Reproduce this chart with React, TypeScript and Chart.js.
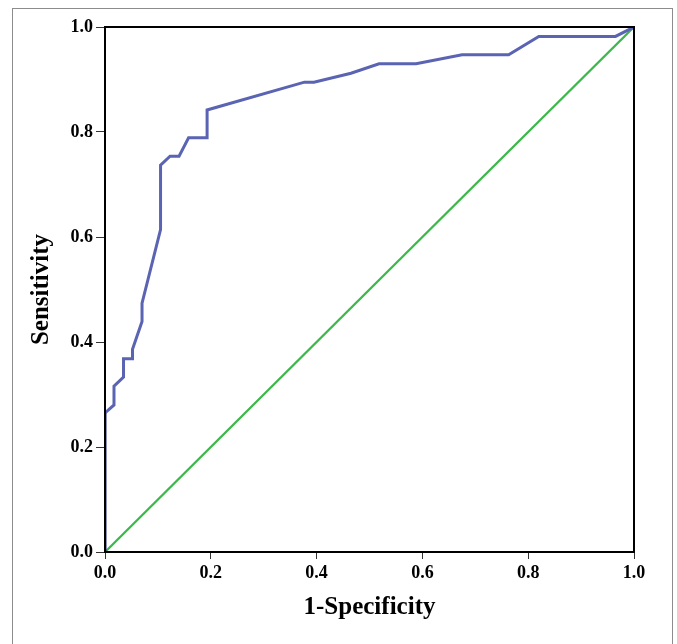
import React, { useEffect, useRef } from "react";
import { Chart, registerables } from "chart.js";

Chart.register(...registerables);

// ROC curve points (1-Specificity, Sensitivity)
const fpr = [0, 0, 0.017, 0.017, 0.035, 0.035, 0.052, 0.052, 0.07, 0.07, 0.105, 0.105, 0.123, 0.14, 0.158, 0.193, 0.193, 0.377, 0.395, 0.465, 0.518, 0.588, 0.675, 0.763, 0.82, 0.965, 1];
const tpr = [0, 0.265, 0.28, 0.316, 0.333, 0.368, 0.368, 0.386, 0.439, 0.474, 0.614, 0.737, 0.754, 0.754, 0.789, 0.789, 0.842, 0.895, 0.895, 0.912, 0.93, 0.93, 0.947, 0.947, 0.982, 0.982, 1];
const refX = [0, 1];
const refY = [0, 1];
const tickValues = [0, 0.2, 0.4, 0.6, 0.8, 1.0];
const xTitle = "1-Specificity";
const yTitle = "Sensitivity";

const W = 677;
const H = 644;

export default function App() {
  const ref = useRef<HTMLCanvasElement | null>(null);
  useEffect(() => {
    document.body.style.margin = "0";
    const canvas = ref.current;
    if (!canvas) return;
    const frame = {
      id: "frame",
      beforeDraw(chart: any) {
        const ctx = chart.ctx;
        ctx.save();
        ctx.fillStyle = "#ffffff";
        ctx.fillRect(0, 0, chart.width, chart.height);
        ctx.strokeStyle = "#8c8c8c";
        ctx.lineWidth = 1;
        ctx.strokeRect(12.5, 8.5, 660, 700);
        ctx.restore();
      },
      afterDraw(chart: any) {
        const a = chart.chartArea;
        const ctx = chart.ctx;
        ctx.save();
        ctx.strokeStyle = "#000000";
        ctx.lineWidth = 2;
        ctx.strokeRect(a.left, a.top, a.right - a.left, a.bottom - a.top);
        ctx.restore();
      },
    };
    const tickFont = { family: "'Liberation Serif', 'Times New Roman', serif", size: 18, weight: "bold" as const };
    const titleFont = { family: "'Liberation Serif', 'Times New Roman', serif", size: 25, weight: "bold" as const };
    const chart = new Chart(canvas, {
      type: "scatter",
      data: {
        datasets: [
          {
            label: "ROC",
            data: fpr.map((x, i) => ({ x, y: tpr[i] })),
            showLine: true,
            borderColor: "#5a64b2",
            borderWidth: 3,
            pointRadius: 0,
            tension: 0,
            order: 1,
            segment: {
              borderColor: (c: any) => (c.p0.parsed.x === 0 && c.p1.parsed.x === 0 ? "#1c2470" : undefined),
            },
          } as any,
          {
            label: "Reference",
            data: refX.map((x, i) => ({ x, y: refY[i] })),
            showLine: true,
            borderColor: "#3cb84a",
            borderWidth: 2.3,
            pointRadius: 0,
            order: 2,
          },
        ],
      },
      options: {
        responsive: false,
        animation: false,
        layout: { padding: { left: 0, top: 27, right: 43, bottom: 0 } },
        plugins: { legend: { display: false }, tooltip: { enabled: false } },
        scales: {
          x: {
            type: "linear",
            min: 0,
            max: 1,
            afterBuildTicks: (s: any) => {
              s.ticks = tickValues.map((v) => ({ value: v }));
            },
            afterFit: (s: any) => {
              s.height = 92;
            },
            ticks: {
              color: "#000",
              font: tickFont,
              padding: 4,
              maxRotation: 0,
              callback: (v: any) => Number(v).toFixed(1),
            },
            grid: { display: true, drawOnChartArea: false, drawTicks: true, tickLength: 7, tickColor: "#333", color: "#333" },
            border: { display: true, color: "#000", width: 2 },
            title: { display: true, text: xTitle, color: "#000", font: titleFont, padding: { top: 0, bottom: 21 } },
          },
          y: {
            type: "linear",
            min: 0,
            max: 1,
            afterBuildTicks: (s: any) => {
              s.ticks = tickValues.map((v) => ({ value: v }));
            },
            afterFit: (s: any) => {
              s.width = 105;
            },
            ticks: {
              color: "#000",
              font: tickFont,
              padding: 3,
              callback: (v: any) => Number(v).toFixed(1),
            },
            grid: { display: true, drawOnChartArea: false, drawTicks: true, tickLength: 9, tickColor: "#333", color: "#333" },
            border: { display: true, color: "#000", width: 2 },
            title: { display: true, text: yTitle, color: "#000", font: titleFont, padding: { top: 27, bottom: 0 } },
          },
        },
      },
      plugins: [frame],
    });
    return () => chart.destroy();
  }, []);
  return <canvas ref={ref} width={W} height={H} style={{ display: "block", width: W, height: H }} />;
}
